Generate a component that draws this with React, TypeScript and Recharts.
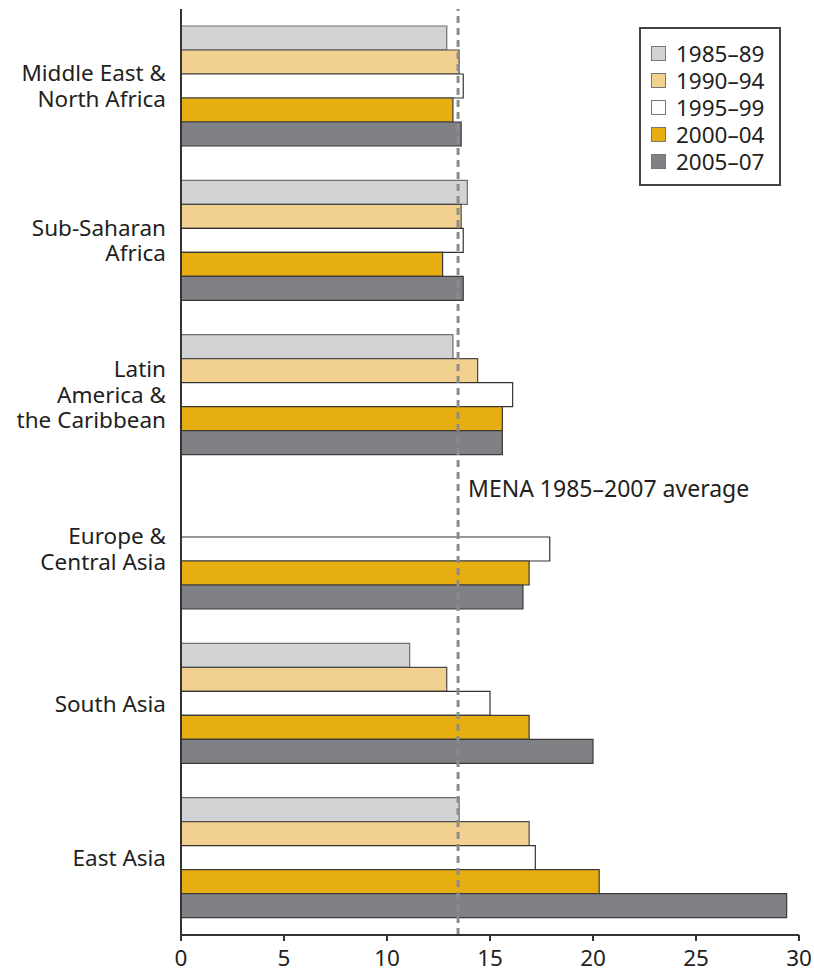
import { BarChart, Bar, XAxis, YAxis, ReferenceLine, Legend } from 'recharts';

const regions = [
  'Middle East & North Africa',
  'Sub-Saharan Africa',
  'Latin America & the Caribbean',
  'Europe & Central Asia',
  'South Asia',
  'East Asia',
];

const regionLines: Record<string, string[]> = {
  'Middle East & North Africa': ['Middle East &', 'North Africa'],
  'Sub-Saharan Africa': ['Sub-Saharan', 'Africa'],
  'Latin America & the Caribbean': ['Latin', 'America &', 'the Caribbean'],
  'Europe & Central Asia': ['Europe &', 'Central Asia'],
  'South Asia': ['South Asia'],
  'East Asia': ['East Asia'],
};

const periods = ['1985–89', '1990–94', '1995–99', '2000–04', '2005–07'];

const p1985 = [12.9, 13.9, 13.2, null, 11.1, 13.5];
const p1990 = [13.5, 13.6, 14.4, null, 12.9, 16.9];
const p1995 = [13.7, 13.7, 16.1, 17.9, 15.0, 17.2];
const p2000 = [13.2, 12.7, 15.6, 16.9, 16.9, 20.3];
const p2005 = [13.6, 13.7, 15.6, 16.6, 20.0, 29.4];

const xTicks = [0, 5, 10, 15, 20, 25, 30];
const menaAverage = 13.45;
const averageLabel = 'MENA 1985–2007 average';

const fills = ['#d1d3d4', '#f2d08f', '#ffffff', '#e7ae12', '#808184'];
const strokes = ['#6d6e70', '#4a4a4a', '#333333', '#3a3a3a', '#3a3a3a'];

const series = [p1985, p1990, p1995, p2000, p2005];

const data = regions.map((region, i) => {
  const row: Record<string, string | number | null> = { region };
  periods.forEach((p, j) => {
    row[p] = series[j][i];
  });
  return row;
});

const FONT = '"Noto Sans", "Open Sans", sans-serif';
const INK = '#231f20';

function RegionTick({ x, y, payload }: any) {
  const lines = regionLines[payload.value] || [payload.value];
  const lh = 25.5;
  const first = y - ((lines.length - 1) * lh) / 2 + 8;
  return (
    <text textAnchor="end" fontSize={22.5} fill={INK} fontFamily={FONT}>
      {lines.map((l, i) => (
        <tspan key={l} x={x} y={first + i * lh}>
          {l}
        </tspan>
      ))}
    </text>
  );
}

function LegendBox() {
  return (
    <div
      style={{
        border: '2px solid #444',
        background: '#fff',
        padding: '11px 0 9px 10px',
        fontFamily: FONT,
        fontSize: 22.5,
        lineHeight: '27px',
        color: INK,
        boxSizing: 'border-box',
        width: 142,
        textAlign: 'left',
      }}
    >
      {periods.map((p, i) => (
        <div key={p} style={{ display: 'flex', alignItems: 'center', height: 27 }}>
          <span
            style={{
              display: 'inline-block',
              width: 13,
              height: 13,
              background: fills[i],
              border: '1px solid #777',
              marginRight: 10,
            }}
          />
          <span>{p}</span>
        </div>
      ))}
    </div>
  );
}

function AverageLabel({ viewBox }: any) {
  return (
    <text
      x={viewBox.x + 10}
      y={viewBox.y + viewBox.height * 0.527}
      fontSize={23}
      fill={INK}
      fontFamily={FONT}
    >
      {averageLabel}
    </text>
  );
}

export default function App() {
  // drop the body margin and pad the wrapper instead, so the page box covers the whole chart
  return (
    <div
      style={{
        fontFamily: FONT,
        padding: '8px 0 0 8px',
        width: 814,
        height: 971,
        boxSizing: 'border-box',
      }}
    >
      <style>{'body { margin: 0; }'}</style>
      <BarChart
        width={806}
        height={962}
        data={data}
        layout="vertical"
        margin={{ top: 1, right: 15, bottom: 0, left: 0 }}
        barSize={24}
        barGap={0}
      >
        <XAxis
          xAxisId="val"
          type="number"
          domain={[0, 30]}
          ticks={xTicks}
          height={35}
          tickSize={6}
          tickMargin={9}
          axisLine={{ stroke: '#333', strokeWidth: 2 }}
          tickLine={{ stroke: '#333', strokeWidth: 2 }}
          tick={{ fontSize: 22.5, fill: INK, fontFamily: FONT }}
        />
        <XAxis
          xAxisId="top"
          orientation="top"
          type="number"
          domain={[0, 30]}
          height={0}
          tick={false}
          tickLine={false}
          axisLine={{ stroke: '#333', strokeWidth: 2 }}
        />
        <YAxis
          yAxisId="bounds"
          type="number"
          domain={[0, 6]}
          ticks={[0, 1, 2, 3, 4, 5, 6]}
          width={0}
          tick={false}
          tickSize={6}
          axisLine={false}
          tickLine={{ stroke: '#333', strokeWidth: 2 }}
        />
        <YAxis
          yAxisId="cat"
          type="category"
          dataKey="region"
          width={173}
          tickLine={false}
          tickSize={0}
          tickMargin={15}
          interval={0}
          axisLine={{ stroke: '#333', strokeWidth: 2 }}
          tick={<RegionTick />}
        />
        <YAxis
          yAxisId="right"
          orientation="right"
          type="number"
          domain={[0, 6]}
          width={0}
          tick={false}
          tickLine={false}
          axisLine={{ stroke: '#333', strokeWidth: 2 }}
        />
        <Legend
          verticalAlign="middle"
          align="center"
          layout="vertical"
          content={<LegendBox />}
          wrapperStyle={{ top: 19, left: 631, width: 142 }}
        />
        {periods.map((p, i) => (
          <Bar
            key={p}
            xAxisId="val"
            yAxisId="cat"
            dataKey={p}
            fill={fills[i]}
            stroke={strokes[i]}
            strokeWidth={1.2}
            isAnimationActive={false}
          />
        ))}
        <ReferenceLine
          xAxisId="val"
          yAxisId="cat"
          x={menaAverage}
          stroke="#8c8c8e"
          strokeWidth={3}
          strokeDasharray="7 5"
          label={<AverageLabel />}
        />
      </BarChart>
    </div>
  );
}
